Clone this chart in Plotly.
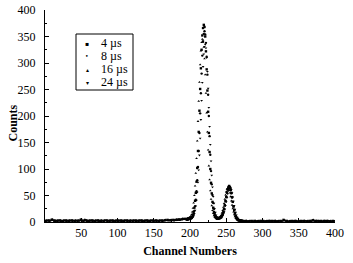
import plotly.graph_objects as go

# ---- data ----
series_names = ["4 \u00b5s", "8 \u00b5s", "16 \u00b5s", "24 \u00b5s"]
symbols = ["square", "circle", "triangle-up", "triangle-down"]
legend_glyphs = ["\u25aa", "\u2022", "\u25b4", "\u25be"]

# left baseline (channel starts 1,2,3,4 ; step 4)
left_s1 = [2,3,4,3,2,3,2, 3,2,3,2,2,4,2, 3,2,3,2,3,2,2, 3,2,3,2,2,3,2,
           3,2,2,3,2,3,2, 3,2,3,3,2,3,3, 4,3,4,4,5,5,6]
left_s2 = [3,2,5,2,3,2,3, 2,3,2,3,3,5,3, 2,3,2,3,2,3,3, 2,3,2,3,3,2,3,
           2,3,3,2,3,2,3, 2,3,2,2,3,2,4, 3,4,3,5,4,6,5]
left_s3 = [2,2,3,2,2,2,3, 2,2,3,2,2,3,5, 2,2,3,2,2,2,3, 2,2,3,2,2,2,3,
           2,2,3,2,2,3,2, 2,3,2,3,3,2,3, 3,4,4,3,5,5,5]
left_s4 = [3,3,2,3,3,2,2, 3,3,2,3,2,2,4, 3,3,2,3,3,2,3, 3,3,2,3,2,3,2,
           3,3,2,3,3,2,3, 3,2,3,2,2,3,3, 4,3,4,4,5,6]

# peak region, channels 196..272
peak_channels = list(range(196, 273))
peak_s1 = [6,5,7,6,8,7,8,10,14,19, 27,40,55,76,102,134,170,210,251,290,
           325,352,366,372,368,350,322,288,248,208, 168,132,100,74,54,38,27,19,13,10,
           8,7,6,7,8, 7,8,9,11,14,18,24,31,39,47, 56,62,66,68,66,62,55,47,38,29,
           22,16,11,8,6,4,3,3,2,2, 2,2]
peak_s2 = [4,6,5,7,6,8,7,9,11,15, 21,30,42,58,79,104,134,168,205,243,
           280,314,340,355,360,354,338,312,278,240, 200,162,127,96,71,51,36,25,17,12,
           9,7,6,6,7, 8,8,10,12,15,19,25,32,40,48, 55,61,64,65,64,60,54,46,38,30,
           23,17,12,9,7,5,4,3,3,2, 3,2]
peak_s3 = [5,7,6,8,9,11,14,19,26,36, 50,68,92,120,153,190,228,264,297,323,
           339,345,343,330,308,278,243,206,170,136, 106,80,59,43,31,22,16,12,9,8,
           7,6,7,6,8, 9,11,13,17,22,28,35,43,51,57, 62,64,63,60,55,48,40,32,25,19,
           14,10,7,6,4,4,3,3,2,2, 2,2]
peak_s4 = [5,4,6,5,7,6,7,8,10,12, 16,22,30,41,56,75,98,126,158,193,
           229,263,293,317,331,335,328,310,284,252, 216,180,146,115,88,66,48,35,25,18,
           13,10,8,7,7, 7,8,9,10,12,15,19,24,31,38, 46,53,59,63,66,65,61,55,47,39,
           31,24,18,13,9,7,5,4,3,3, 2,2]

# right baseline (channel starts 273..276 ; step 4)
right_s1 = [2,2,1,2,2,1,2,2, 1,2,2,2,1,2,4,2, 1,2,2,1,2,2,1,2, 3,2,1,2,2,2,1,2]
right_s2 = [1,2,2,1,2,2,2,1, 2,2,1,2,2,1,3,2, 2,1,2,2,1,2,2,2, 4,2,2,1,2,2,2,1]
right_s3 = [2,1,2,2,1,2,2,1, 2,2,2,1,2,2,3,1, 2,2,2,1,2,2,2,1, 2,2,2,1,2,2,1,2]
right_s4 = [2,2,2,1,2,1,2,2, 2,1,2,2,2,2,2,1, 2,2,1,2,2,2,1,2, 2,3,2,1,2,2,1,2]

lefts = [left_s1, left_s2, left_s3, left_s4]
peaks = [peak_s1, peak_s2, peak_s3, peak_s4]
rights = [right_s1, right_s2, right_s3, right_s4]

x_ticks = [50, 100, 150, 200, 250, 300, 350, 400]
y_ticks = [0, 50, 100, 150, 200, 250, 300, 350, 400]

FONT = "Liberation Serif, Times New Roman, serif"
W, H = 353, 263
ML, MR, MT, MB = 45, 18, 10, 41
PW, PH = W - ML - MR, H - MT - MB


def px_x(px):
    return (px - ML) / PW


def px_y(py):
    return (H - MB - py) / PH


fig = go.Figure()
for k in range(4):
    lx = list(range(1 + k, 1 + k + 4 * len(lefts[k]), 4))
    rx = list(range(273 + k, 273 + k + 4 * len(rights[k]), 4))
    xs = lx + peak_channels[:len(peaks[k])] + rx
    ys = lefts[k] + peaks[k] + rights[k]
    fig.add_trace(go.Scatter(
        x=xs, y=ys, mode="markers", name=series_names[k], showlegend=False,
        marker=dict(symbol=symbols[k], size=2.4, color="black", line=dict(width=0)),
    ))

# legend box (drawn as layout decoration)
shapes = [dict(type="rect", xref="paper", yref="paper",
               x0=px_x(76), x1=px_x(133), y0=px_y(90), y1=px_y(34),
               line=dict(color="black", width=1), fillcolor="white", layer="above")]
annotations = []
for i, (g, name) in enumerate(zip(legend_glyphs, series_names)):
    yy = px_y(43 + 13 * i)
    annotations.append(dict(xref="paper", yref="paper", x=px_x(87), y=yy,
                            text=g, showarrow=False, xanchor="center", yanchor="middle",
                            font=dict(family="DejaVu Sans", size=6, color="black")))
    annotations.append(dict(xref="paper", yref="paper", x=px_x(99), y=yy,
                            text=name, showarrow=False, xanchor="left", yanchor="middle",
                            font=dict(family=FONT, size=12, color="black")))

# y-axis title as rotated annotation for precise placement
annotations.append(dict(xref="paper", yref="paper", x=px_x(12.5), y=px_y(123),
                        text="<b>Counts</b>", showarrow=False, textangle=-90,
                        xanchor="center", yanchor="middle",
                        font=dict(family=FONT, size=12, color="black")))

fig.update_layout(
    width=W, height=H,
    margin=dict(l=ML, r=MR, t=MT, b=MB),
    paper_bgcolor="white", plot_bgcolor="white",
    font=dict(family=FONT, size=12, color="black"),
    showlegend=False,
    shapes=shapes, annotations=annotations,
)
fig.update_xaxes(
    range=[0, 400], tickvals=x_ticks, showgrid=False, zeroline=False,
    showline=True, linecolor="black", linewidth=1, automargin=False,
    ticks="inside", ticklen=4, tickcolor="black",
    minor=dict(dtick=25, tick0=0, ticks="inside", ticklen=2, tickcolor="black"),
    title=dict(text="<b>Channel Numbers</b>", font=dict(family=FONT, size=12), standoff=7),
    tickfont=dict(family=FONT, size=12),
)
fig.update_yaxes(
    range=[0, 400], tickvals=y_ticks, showgrid=False, zeroline=False,
    showline=True, linecolor="black", linewidth=1, automargin=False,
    ticks="inside", ticklen=4, tickcolor="black",
    minor=dict(dtick=25, tick0=0, ticks="inside", ticklen=2, tickcolor="black"),
    ticklabelstandoff=6,
    tickfont=dict(family=FONT, size=12),
)

fig.write_html("out.html", config={"displayModeBar": False},
               post_script="document.body.style.margin='0';document.body.style.overflow='hidden';")
